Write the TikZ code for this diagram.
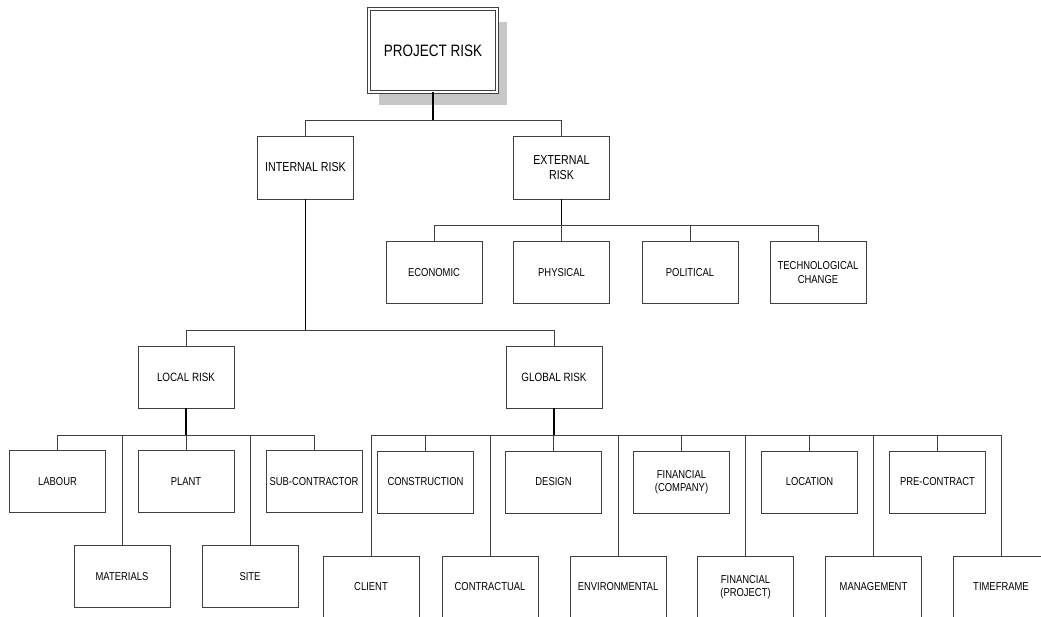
\documentclass[tikz,border=0pt]{standalone}
\usepackage{fontspec}
\setmainfont[FakeStretch=0.82]{Liberation Sans}
\usetikzlibrary{shadows}

\begin{document}
\begin{tikzpicture}[x=1pt, y=-1pt,
    every node/.style={draw=black!75, line width=0.8pt, rectangle, minimum width=96pt,
      minimum height=62pt, align=center, inner sep=2pt, font=\fontsize{11.5}{13.5}\selectfont},
    rootbox/.style={minimum width=128pt, minimum height=83pt, double=white,
      double distance=1.8pt, fill=white, font=\fontsize{16.5}{19}\selectfont,
      drop shadow={shadow xshift=10pt, shadow yshift=-13pt, fill=black!22, opacity=1}},
    mainbox/.style={minimum height=63pt, font=\fontsize{13}{15}\selectfont},
    subbox/.style={font=\fontsize{12}{14}\selectfont},
    stem/.style={black, line width=1.5pt},
    branch/.style={black!75, line width=0.9pt}]
  \useasboundingbox (0,0) rectangle (1041,616);

  % Boxes
  \node[rootbox] (project) at (433,50.5) {PROJECT RISK};
  \node[mainbox] (internal) at (305.5,167.5) {INTERNAL RISK};
  \node[mainbox] (external) at (561.5,167.5) {EXTERNAL\\RISK};

  \node (economic) at (434,272.5) {ECONOMIC};
  \node (physical) at (561.5,272.5) {PHYSICAL};
  \node (political) at (690,272.5) {POLITICAL};
  \node (techchange) at (818,272.5) {TECHNOLOGICAL\\CHANGE};

  \node[subbox] (local) at (186,377) {LOCAL RISK};
  \node[subbox] (global) at (554,377) {GLOBAL RISK};

  \node (labour) at (57.5,481.5) {LABOUR};
  \node (plant) at (186,481.5) {PLANT};
  \node (subcon) at (314,481.5) {SUB-CONTRACTOR};
  \node (materials) at (122,576.5) {MATERIALS};
  \node (site) at (250,576.5) {SITE};

  \node (construction) at (425.5,482) {CONSTRUCTION};
  \node (design) at (553.5,482) {DESIGN};
  \node (fincompany) at (681.5,482) {FINANCIAL\\(COMPANY)};
  \node (location) at (809.5,482) {LOCATION};
  \node (precontract) at (937.5,482) {PRE-CONTRACT};
  \node (client) at (371,587) {CLIENT};
  \node (contractual) at (490,587) {CONTRACTUAL};
  \node (environmental) at (618,587) {ENVIRONMENTAL};
  \node (finproject) at (745.5,587) {FINANCIAL\\(PROJECT)};
  \node (management) at (873.5,587) {MANAGEMENT};
  \node (timeframe) at (1001,587) {TIMEFRAME};

  % Bus points
  \coordinate (pbus) at (433,120);
  \coordinate (ebus) at (561.5,225);
  \coordinate (ibus) at (305.5,330);
  \coordinate (lbus) at (186,435);
  \coordinate (gbus) at (554,435);

  % Lines
  \draw[stem] (project.south) -- (pbus);
  \draw[branch] (pbus) -| (internal.north);
  \draw[branch] (pbus) -| (external.north);

  \draw[stem] (external.south) -- (ebus);
  \draw[branch] (ebus) -| (economic.north);
  \draw[branch] (ebus) -| (physical.north);
  \draw[branch] (ebus) -| (political.north);
  \draw[branch] (ebus) -| (techchange.north);

  \draw[stem] (internal.south) -- (ibus);
  \draw[branch] (ibus) -| (local.north);
  \draw[branch] (ibus) -| (global.north);

  \draw[stem] (local.south) -- (lbus);
  \draw[branch] (lbus) -| (labour.north);
  \draw[branch] (lbus) -| (materials.north);
  \draw[branch] (lbus) -| (plant.north);
  \draw[branch] (lbus) -| (site.north);
  \draw[branch] (lbus) -| (subcon.north);

  \draw[stem] (global.south) -- (gbus);
  \draw[branch] (gbus) -| (client.north);
  \draw[branch] (gbus) -| (construction.north);
  \draw[branch] (gbus) -| (contractual.north);
  \draw[branch] (gbus) -| (design.north);
  \draw[branch] (gbus) -| (environmental.north);
  \draw[branch] (gbus) -| (fincompany.north);
  \draw[branch] (gbus) -| (finproject.north);
  \draw[branch] (gbus) -| (location.north);
  \draw[branch] (gbus) -| (management.north);
  \draw[branch] (gbus) -| (precontract.north);
  \draw[branch] (gbus) -| (timeframe.north);
\end{tikzpicture}
\end{document}
